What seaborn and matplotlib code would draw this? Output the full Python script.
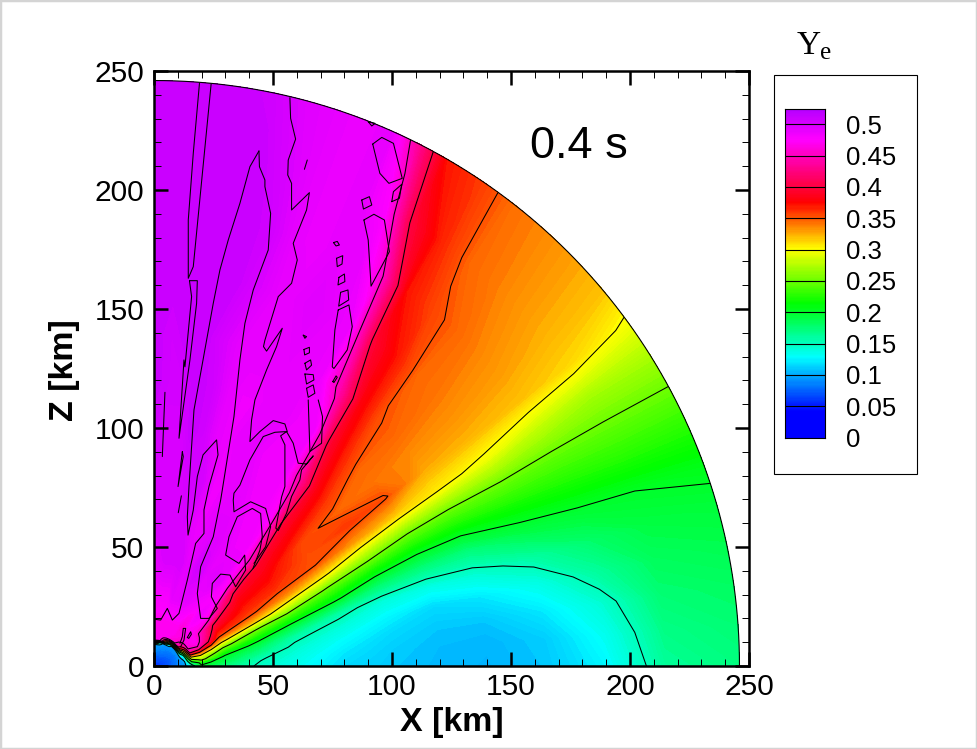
import numpy as np
import matplotlib
matplotlib.use("Agg")
import matplotlib.pyplot as plt
import seaborn as sns
from matplotlib.colors import LinearSegmentedColormap
from matplotlib.patches import Rectangle
from matplotlib.ticker import MultipleLocator

# Ye on a polar grid: one row per radius (km), one column per angle from the equator (deg)
angles = [0, 4, 8, 12, 16, 20, 24, 28, 32, 36, 40, 44, 48, 52, 56, 60, 63, 66, 69, 72, 75, 78, 81, 84, 87, 90]
radii = [0, 6, 9, 10, 11, 13, 16, 20, 30, 45, 60, 80, 100, 120, 140, 165, 190, 215, 246]
ye_by_radius = [
    [.055, .055, .055, .055, .055, .055, .055, .055, .055, .055, .055, .055, .055, .055, .055, .055, .055, .055, .055, .055, .055, .055, .055, .055, .055, .055],
    [.07, .07, .07, .07, .07, .07, .07, .072, .072, .074, .074, .076, .076, .078, .078, .08, .08, .08, .08, .082, .082, .082, .084, .084, .085, .085],
    [.08, .08, .08, .08, .08, .08, .08, .08, .082, .082, .084, .084, .086, .086, .088, .09, .09, .09, .092, .092, .094, .094, .096, .096, .096, .096],
    [.085, .085, .085, .085, .085, .085, .085, .085, .088, .088, .088, .09, .09, .09, .09, .09, .09, .095, .10, .11, .13, .16, .20, .25, .30, .33],
    [.09, .09, .09, .09, .09, .09, .09, .09, .09, .09, .09, .095, .10, .12, .15, .20, .25, .30, .35, .40, .44, .46, .47, .47, .47, .47],
    [.095, .095, .10, .105, .12, .15, .20, .26, .33, .38, .42, .44, .45, .455, .46, .46, .465, .465, .47, .47, .47, .47, .47, .47, .47, .47],
    [.13, .17, .22, .28, .34, .40, .44, .455, .46, .46, .46, .46, .46, .465, .465, .47, .47, .47, .47, .47, .47, .47, .47, .47, .47, .47],
    [.195, .21, .262, .29, .34, .40, .45, .465, .47, .47, .47, .47, .47, .46, .46, .47, .47, .47, .47, .47, .47, .47, .47, .47, .47, .47],
    [.17, .185, .197, .225, .26, .31, .35, .37, .39, .405, .45, .475, .485, .475, .48, .485, .49, .49, .49, .49, .49, .48, .48, .48, .48, .48],
    [.145, .152, .17, .19, .22, .255, .32, .355, .365, .375, .385, .41, .47, .49, .495, .49, .50, .505, .495, .49, .50, .50, .50, .50, .495, .49],
    [.132, .137, .145, .158, .19, .23, .285, .335, .36, .37, .38, .39, .45, .485, .485, .49, .495, .495, .49, .485, .49, .50, .50, .50, .50, .50],
    [.115, .12, .128, .14, .158, .205, .245, .305, .35, .352, .355, .375, .395, .475, .485, .485, .49, .49, .485, .485, .50, .505, .50, .50, .50, .50],
    [.108, .11, .115, .125, .14, .178, .222, .275, .33, .36, .345, .36, .385, .435, .485, .485, .485, .49, .49, .485, .49, .505, .51, .50, .50, .505],
    [.104, .105, .108, .115, .135, .17, .21, .255, .315, .352, .34, .345, .365, .395, .485, .485, .49, .49, .485, .485, .49, .505, .51, .505, .505, .51],
    [.102, .103, .108, .12, .142, .17, .21, .25, .305, .325, .335, .345, .352, .38, .44, .485, .49, .49, .49, .49, .49, .50, .51, .51, .505, .51],
    [.108, .11, .12, .135, .158, .19, .218, .25, .295, .322, .332, .34, .345, .37, .395, .485, .49, .495, .49, .49, .50, .51, .51, .51, .51, .51],
    [.125, .132, .142, .16, .177, .197, .222, .247, .28, .318, .328, .336, .345, .355, .37, .46, .49, .49, .485, .49, .505, .51, .51, .51, .51, .51],
    [.162, .168, .175, .182, .19, .20, .225, .247, .27, .312, .322, .33, .338, .345, .365, .40, .475, .49, .485, .49, .50, .51, .51, .51, .51, .51],
    [.17, .175, .18, .187, .194, .205, .225, .247, .27, .297, .318, .327, .335, .342, .358, .37, .43, .49, .485, .49, .495, .505, .51, .51, .51, .51],
]

# traced contour lines of the magenta region, x and z in km
outline_a_x = [19.1, 16.5, 14.4, 14.4, 16.5, 24.0]
outline_a_z = [244.8, 215.4, 187.4, 162.9, 167.8, 244.5]
outline_b_x = [14.9, 18.2, 17.9, 15.1, 10.5, 12.6, 13.0, 15.8, 14.9]
outline_b_z = [161.9, 161.9, 152.4, 128.6, 95.7, 128.6, 125.7, 155.2, 161.9]
outline_c_x = [44.1, 40.3, 36.1, 31.2, 27.7, 24.9, 20.6, 16.8, 14.7, 14.0, 14.3, 16.5, 18.2, 20.6, 26.3, 26.9, 23.1, 21.0, 21.0, 17.5, 14.0, 10.5, 7.7, 5.6, 2.8, 0.4]
outline_c_z = [216.4, 209.8, 194.4, 179.0, 166.4, 152.4, 128.6, 107.6, 75.4, 62.7, 55.0, 65.5, 79.6, 88.7, 95.0, 88.7, 75.4, 65.6, 55.7, 51.5, 36.1, 22.1, 19.3, 24.2, 19.3, 19.6]
outline_d_x = [44.1, 44.3, 46.6, 46.6, 49.0, 48.0, 41.7, 38.2, 36.1, 33.6, 28.7, 28.0, 24.9, 19.6, 18.2, 19.6, 23.1, 26.6, 24.1, 24.5, 28.0, 31.9, 34.3, 38.5, 38.1, 35.7, 30.1, 31.5, 35.0, 41.3, 44.8, 45.5, 44.5, 41.6]
outline_d_z = [216.4, 209.8, 204.2, 201.4, 190.2, 174.8, 158.0, 144.0, 128.6, 104.8, 74.0, 69.7, 54.3, 41.7, 30.5, 20.0, 20.0, 24.2, 29.1, 34.7, 38.6, 38.2, 33.3, 40.3, 46.6, 43.1, 46.6, 54.3, 62.7, 66.2, 64.1, 54.3, 48.7, 41.0]
outline_e_x = [42.0, 46.9, 49.0, 46.9, 40.6, 33.6, 33.3, 33.6, 36.1, 40.3, 45.9, 50.8, 55.7, 53.2, 55.0, 55.0, 53.6, 51.2, 52.2, 55.7, 57.8, 61.3, 62.0, 66.9, 64.1, 60.6, 58.5, 55.7]
outline_e_z = [43.1, 50.1, 58.5, 66.2, 69.0, 64.8, 69.7, 72.6, 76.0, 86.6, 96.4, 98.2, 98.5, 96.7, 92.9, 75.4, 71.0, 57.9, 56.9, 64.2, 71.2, 78.2, 82.4, 88.3, 84.9, 85.2, 93.6, 98.5]
outline_f_x = [57.1, 57.4, 59.5, 56.4, 56.2, 57.8, 57.8, 65.3, 64.1, 58.5, 60.2, 57.8, 52.2, 46.6, 46.0, 47.3, 53.9, 51.5, 47.3, 42.4, 41.0, 40.3, 44.5, 50.1, 55.0, 56.0]
outline_f_z = [238.8, 230.1, 221.4, 212.6, 206.3, 202.8, 191.6, 198.9, 191.6, 177.6, 170.6, 160.8, 155.2, 136.9, 134.2, 132.3, 141.9, 134.2, 124.4, 111.8, 103.4, 94.3, 98.5, 103.1, 101.7, 98.5]
outline_g_x = [91.9, 95.7, 100.6, 104.3, 98.7, 94.9, 91.9]
outline_g_z = [219.3, 222.1, 219.6, 204.9, 202.8, 207.0, 219.3]
outline_h_x = [99.9, 100.6, 104.1, 103.1, 99.9]
outline_h_z = [195.1, 199.3, 202.4, 196.5, 195.1]
outline_i_x = [87.3, 90.5, 91.5, 88.0, 87.3]
outline_i_z = [195.8, 197.2, 193.7, 192.0, 195.8]
outline_j_x = [88.2, 92.4, 96.8, 98.9, 91.2, 90.0, 88.2]
outline_j_z = [187.4, 189.8, 187.4, 174.1, 159.6, 179.0, 187.4]
outline_k_x = [75.4, 77.0, 77.9, 76.5, 75.4]
outline_k_z = [177.9, 178.4, 176.9, 176.5, 177.9]
outline_l_x = [76.7, 79.3, 79.0, 77.0, 76.7]
outline_l_z = [171.3, 172.4, 168.9, 167.8, 171.3]
outline_m_x = [77.7, 80.0, 80.2, 77.3, 77.7]
outline_m_z = [163.3, 164.7, 161.5, 160.1, 163.3]
outline_n_x = [78.4, 81.5, 81.8, 77.6, 78.4]
outline_n_z = [157.0, 158.0, 153.8, 151.2, 157.0]
outline_o_x = [77.4, 81.9, 83.3, 81.2, 75.6, 74.9, 76.0, 77.4]
outline_o_z = [149.6, 151.7, 142.6, 132.8, 125.0, 125.7, 141.2, 149.6]
outline_p_x = [63.2, 64.4]
outline_p_z = [208.7, 212.6]
outline_q_x = [90.0, 92.9, 91.5, 90.0]
outline_q_z = [228.7, 228.0, 226.9, 228.7]
outline_r_x = [62.7, 64.1, 63.4, 62.7]
outline_r_z = [139.0, 138.4, 137.7, 139.0]
outline_s_x = [63.0, 65.3, 65.3, 63.3, 63.0]
outline_s_z = [133.0, 133.9, 131.6, 130.7, 133.0]
outline_t_x = [63.4, 65.8, 66.2, 64.1, 63.4]
outline_t_z = [127.2, 128.6, 126.4, 124.4, 127.2]
outline_u_x = [63.4, 66.9, 67.2, 64.1, 63.4]
outline_u_z = [122.7, 122.4, 120.2, 118.5, 122.7]
outline_v_x = [64.1, 66.9, 67.6, 64.8, 64.1]
outline_v_z = [116.7, 118.1, 114.6, 112.9, 116.7]
outline_w_x = [64.8, 65.5, 70.4, 70.8, 69.0]
outline_w_z = [111.8, 90.1, 93.6, 104.8, 111.8]
outline_y_x = [75.1, 76.5, 77.0, 75.6, 75.1]
outline_y_z = [119.5, 121.9, 121.3, 119.1, 119.5]
outline_z1_x = [4.6, 3.5]
outline_z1_z = [115.0, 88.0]
outline_z2_x = [11.9, 10.1, 12.3, 11.9]
outline_z2_z = [90.0, 75.4, 88.0, 90.0]
outline_z3_x = [11.5, 10.2]
outline_z3_z = [71.5, 64.4]
outline_z4_x = [10.9, 11.9, 12.3, 13.3, 12.6, 11.2]
outline_z4_z = [9.5, 12.3, 15.8, 15.8, 10.9, 8.1]
outline_z5_x = [14.0, 15.4, 15.7, 14.6, 14.0]
outline_z5_z = [12.0, 14.4, 13.3, 11.6, 12.0]

outlines = [
    (outline_a_x, outline_a_z), (outline_b_x, outline_b_z), (outline_c_x, outline_c_z),
    (outline_d_x, outline_d_z), (outline_e_x, outline_e_z), (outline_f_x, outline_f_z),
    (outline_g_x, outline_g_z), (outline_h_x, outline_h_z), (outline_i_x, outline_i_z),
    (outline_j_x, outline_j_z), (outline_k_x, outline_k_z), (outline_l_x, outline_l_z),
    (outline_m_x, outline_m_z), (outline_n_x, outline_n_z), (outline_o_x, outline_o_z),
    (outline_p_x, outline_p_z), (outline_q_x, outline_q_z), (outline_r_x, outline_r_z),
    (outline_s_x, outline_s_z), (outline_t_x, outline_t_z), (outline_u_x, outline_u_z),
    (outline_v_x, outline_v_z), (outline_w_x, outline_w_z), (outline_y_x, outline_y_z),
    (outline_z1_x, outline_z1_z), (outline_z2_x, outline_z2_z), (outline_z3_x, outline_z3_z),
    (outline_z4_x, outline_z4_z), (outline_z5_x, outline_z5_z),
]

line_levels = [0.05, 0.1, 0.15, 0.2, 0.25, 0.3, 0.35, 0.4, 0.45]
bar_levels = [0, 0.05, 0.1, 0.15, 0.2, 0.25, 0.3, 0.35, 0.4, 0.45, 0.5]
bar_labels = ["0", "0.05", "0.1", "0.15", "0.2", "0.25", "0.3", "0.35", "0.4", "0.45", "0.5"]
ye_max = 0.525

sns.set_style("white")
plt.rcParams["font.family"] = ["Liberation Sans", "DejaVu Sans"]

# small rainbow like the legend bar
stops = [(0.0, "#0000ff"), (0.04, "#0000ff"), (0.127, "#00ffff"), (0.213, "#00ff00"),
         (0.30, "#ffff00"), (0.375, "#ff0000"), (0.475, "#ff00ff"), (0.525, "#b400ff")]
cmap = LinearSegmentedColormap.from_list("ye", [(p / ye_max, c) for p, c in stops])

W, H = 977, 749
fig = plt.figure(figsize=(W / 100, H / 100), dpi=100)
fig.patches.append(Rectangle((0, 0), 1, 1, transform=fig.transFigure, fill=False, ec="#d4d4d4", lw=2.5, zorder=-2))
ax = fig.add_axes([154 / W, 1 - 666 / H, 595 / W, 595 / H])

th = np.radians(angles)
rr, tt = np.meshgrid(radii, th, indexing="ij")
xx = rr * np.cos(tt)
zz = rr * np.sin(tt)
ye = np.array(ye_by_radius)

ax.contourf(xx, zz, ye, levels=np.linspace(0, ye_max, 211), cmap=cmap, extend="both")
ax.contour(xx, zz, ye, levels=line_levels, colors="k", linewidths=0.75)

for ox, oz in outlines:
    sns.lineplot(x=ox, y=oz, sort=False, estimator=None, color="k", linewidth=0.75, ax=ax, legend=False)

# outer edge of the domain
edge = np.radians(np.linspace(0, 90, 181))
ax.plot(radii[-1] * np.cos(edge), radii[-1] * np.sin(edge), color="k", lw=0.8)

ax.set_xlim(0, 250)
ax.set_ylim(0, 250)
ax.set_axisbelow(False)
ax.xaxis.set_minor_locator(MultipleLocator(10))
ax.yaxis.set_minor_locator(MultipleLocator(10))
ax.tick_params(which="major", direction="in", top=True, right=True, bottom=True, left=True,
               length=10, width=1.8, labelsize=21.5, color="k", labelcolor="k", pad=7)
ax.tick_params(which="minor", direction="in", top=True, right=True, bottom=True, left=True,
               length=5, width=0.7, color="k")
ax.tick_params(axis="x", which="major", pad=5)
ax.set_xticks([0, 50, 100, 150, 200, 250])
ax.set_yticks([0, 50, 100, 150, 200, 250])
for s in ax.spines.values():
    s.set_linewidth(1.8)
    s.set_color("k")
    s.set_visible(True)

fig.text(452 / W, 1 - 722 / H, "X [km]", fontsize=24.5, fontweight="bold", ha="center", va="center", color="k")
fig.text(64 / W, 1 - 370 / H, "Z [km]", fontsize=24.5, fontweight="bold", rotation=90, ha="center", va="center", color="k")
fig.text(579 / W, 1 - 146 / H, "0.4 s", fontsize=32.5, ha="center", va="center", color="k")

# legend box and bar
fig.patches.append(Rectangle((774 / W, 1 - 474 / H), 143 / W, 399 / H, transform=fig.transFigure,
                             fc="white", ec="k", lw=0.8, zorder=-1))
cax = fig.add_axes([785 / W, 1 - 437.5 / H, 40 / W, 329 / H])
ramp = np.linspace(0, ye_max, 300)
cax.pcolormesh([0, 1], ramp, np.column_stack([ramp[:-1]]), cmap=cmap, vmin=0, vmax=ye_max, shading="flat")
cax.hlines(bar_levels[1:], 0, 1, color="k", lw=0.8)
cax.set_xlim(0, 1)
cax.set_ylim(0, ye_max)
cax.set_xticks([])
cax.set_yticks([])
for s in cax.spines.values():
    s.set_linewidth(0.8)
    s.set_color("k")
    s.set_visible(True)
for lev, lab in zip(bar_levels, bar_labels):
    cax.annotate(lab, xy=(1, lev), xytext=(15, -1.8), textcoords="offset points", fontsize=18.5,
                 va="center", ha="left", color="k", annotation_clip=False)

fig.text(797 / W, 1 - 54 / H, "Y", family="Liberation Serif", fontsize=24, color="k", ha="left", va="baseline")
fig.text(820 / W, 1 - 59 / H, "e", family="Liberation Serif", fontsize=18, color="k", ha="left", va="baseline")

fig.savefig("out.png", dpi=100)
